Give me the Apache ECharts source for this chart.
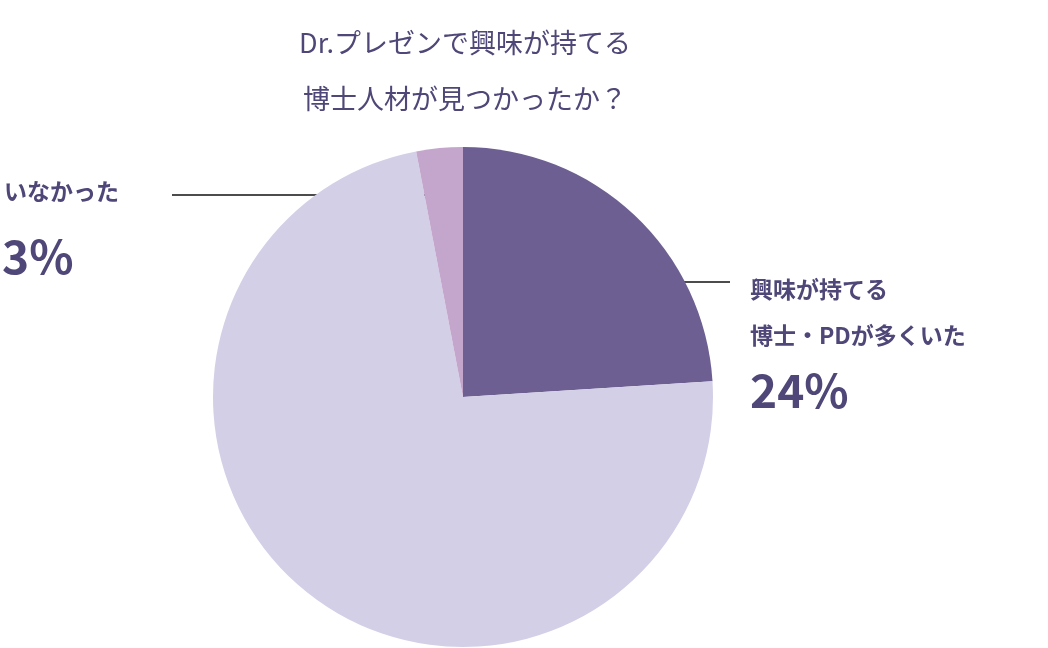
<!DOCTYPE html>
<html><head><meta charset="utf-8">
<script src="https://cdn.jsdelivr.net/npm/echarts@6/dist/echarts.min.js"></script>
<style>html,body{margin:0;padding:0;background:#fff}#main{width:1048px;height:648px}</style>
</head><body><div id="main"></div>
<script>
var categories = ['興味が持てる\n博士・PDが多くいた', '興味が持てる\n博士・PDがある程度いた', 'いなかった'];
var values = [24, 73, 3];
var colors = ['#6d5f91', '#d3cfe7', '#c4a6cc'];
var txt = '#4e4777';
var font = '"Noto Sans CJK JP", sans-serif';

var chart = echarts.init(document.getElementById('main'));
chart.setOption({
  animation: false,
  title: {
    text: 'Dr.プレゼンで興味が持てる\n博士人材が見つかったか？',
    left: 460, top: 10, textAlign: 'center',
    textStyle: { color: txt, fontSize: 27, fontWeight: 'normal', lineHeight: 56, fontFamily: font }
  },
  series: [{
    type: 'pie',
    center: [463, 397],
    radius: 250,
    startAngle: 90,
    clockwise: true,
    label: { show: false },
    labelLine: { show: false },
    data: values.map(function (v, i) {
      return { name: categories[i], value: v, itemStyle: { color: colors[i] } };
    })
  }],
  graphic: [
    { type: 'line', shape: { x1: 548, y1: 282, x2: 730, y2: 282 }, style: { stroke: '#111', lineWidth: 1.5 } },
    { type: 'circle', shape: { cx: 548, cy: 282, r: 4 }, style: { fill: '#111' } },
    { type: 'line', shape: { x1: 445, y1: 195, x2: 172, y2: 195 }, style: { stroke: '#111', lineWidth: 1.5 } },
    { type: 'circle', shape: { cx: 445, cy: 195, r: 4 }, style: { fill: '#111' } },
    { type: 'text', left: 750, top: 266, style: { text: categories[0], fill: txt, font: 'bold 23px ' + font, lineHeight: 46 } },
    { type: 'text', left: 750, top: 368, style: { text: values[0] + '%', fill: txt, font: 'bold 46px ' + font } },
    { type: 'text', left: 282, top: 424, style: { text: categories[1], fill: txt, font: 'bold 23px ' + font, lineHeight: 52 } },
    { type: 'text', left: 404, top: 530, style: { text: values[1] + '%', fill: txt, font: 'bold 46px ' + font } },
    { type: 'text', left: 4, top: 180, style: { text: categories[2], fill: txt, font: 'bold 23px ' + font } },
    { type: 'text', left: 2, top: 234, style: { text: values[2] + '%', fill: txt, font: 'bold 46px ' + font } }
  ]
});
</script></body></html>
